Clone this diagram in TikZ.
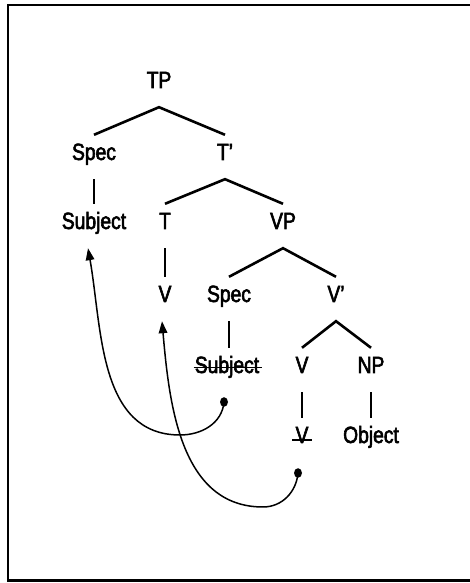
\documentclass[tikz,border=0pt]{standalone}
\usepackage{fontspec}
\setmainfont[FakeStretch=0.82,FakeBold=2.5]{Liberation Sans}
\usetikzlibrary{arrows.meta,shapes.geometric}
\begin{document}
\begin{tikzpicture}[x=1pt,y=1pt,
  lbl/.style={anchor=base, text height=25pt, text depth=19pt, inner ysep=0pt,
    inner xsep=1pt, font=\fontsize{23.5}{28}\selectfont},
  branch/.style={line width=2.6pt},
  strike/.style={line width=1.8pt},
  move/.style={line width=1.5pt, -{Triangle[length=12pt,width=8.5pt]}},
  dot/.style={ellipse, fill, inner sep=0pt, minimum width=8pt, minimum height=9.5pt}]
\useasboundingbox (0,0) rectangle (469,583);
% frame
\draw[line width=2.6pt] (8,2.5) rectangle (480,578);

% tree labels
\node[lbl] (tp)    at (159,495) {TP};
\node[lbl] (spec1) at (94,423)  {Spec};
\node[lbl] (tbar)  at (225,423) {T'};
\node[lbl] (subj1) at (94,354)  {Subject};
\node[lbl] (t)     at (165,354) {T};
\node[lbl] (vp)    at (283,354) {VP};
\node[lbl] (v1)    at (165,281) {V};
\node[lbl] (spec2) at (229,281) {Spec};
\node[lbl] (vbar)  at (336,281) {V'};
\node[lbl] (subj2) at (227,210) {Subject};
\node[lbl] (v2)    at (302,210) {V};
\node[lbl] (np)    at (371,210) {NP};
\node[lbl] (v3)    at (302,140) {V};
\node[lbl] (obj)   at (371,140) {Object};

% branches
\draw[branch] (spec1.north) -- (tp.south) -- (tbar.north);
\draw[branch] (t.north) -- (tbar.south) -- (vp.north);
\draw[branch] (spec2.north) -- (vp.south) -- (vbar.north);
\draw[branch] (v2.north) -- (vbar.south) -- (np.north);
\draw[branch] (spec1.south) -- (subj1.north);
\draw[branch] (t.south) -- (v1.north);
\draw[branch] (spec2.south) -- (spec2.south |- subj2.north);
\draw[branch] (v2.south) -- (v3.north);
\draw[branch] (np.south) -- (obj.north);

% struck-out copies
\draw[strike] ([yshift=5.5pt]subj2.base west) -- ([yshift=5.5pt,xshift=2pt]subj2.base east);
\draw[strike] ([yshift=3pt,xshift=-2pt]v3.base west) -- ([yshift=3pt,xshift=2pt]v3.base east);

% movement arrows
\node[dot] (d1) at (224,181) {};
\node[dot] (d2) at (298,110) {};
\coordinate (b1) at (180,148);
\coordinate (b2) at (263,76);
\draw[move] (d1.center) to[out=-95,in=0] (b1)
  to[out=180,in=-80] ([xshift=-6pt]subj1.south);
\draw[move] (d2.center) to[out=-95,in=0] (b2)
  to[out=180,in=-85] ([xshift=-3pt]v1.south);
\end{tikzpicture}
\end{document}
